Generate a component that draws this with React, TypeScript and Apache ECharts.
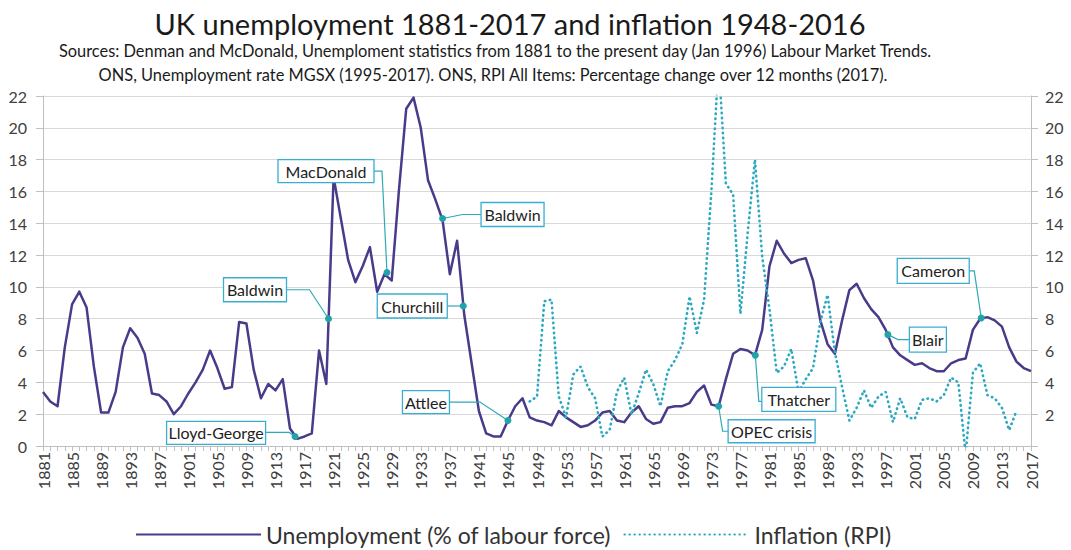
import React, { useEffect, useRef } from "react";
import * as echarts from "echarts";

const firstYear = 1881;
const lastYear = 2017;
const years: string[] = [];
for (let y = firstYear; y <= lastYear; y++) years.push(String(y));

// Unemployment, % of labour force, 1881-2017
const unemployment = [
  3.4, 2.8, 2.5, 6.2, 8.9, 9.7, 8.7, 5.0, 2.1, 2.1,
  3.4, 6.2, 7.4, 6.8, 5.8, 3.3, 3.2, 2.8, 2.0, 2.5,
  3.3, 4.0, 4.8, 6.0, 4.9, 3.6, 3.7, 7.8, 7.7, 4.8,
  3.0, 3.9, 3.5, 4.2, 1.1, 0.45, 0.6, 0.8, 6.0, 3.9,
  16.9, 14.3, 11.7, 10.3, 11.3, 12.5, 9.7, 10.8, 10.4, 16.1,
  21.2, 21.9, 20.0, 16.7, 15.5, 14.2, 10.8, 12.9, 8.2, 5.2,
  2.2, 0.8, 0.6, 0.6, 1.6, 2.5, 3.0, 1.8, 1.6, 1.5,
  1.3, 2.2, 1.8, 1.5, 1.2, 1.3, 1.6, 2.1, 2.2, 1.6,
  1.5, 2.1, 2.5, 1.7, 1.4, 1.5, 2.4, 2.5, 2.5, 2.7,
  3.4, 3.8, 2.6, 2.5, 4.2, 5.8, 6.1, 6.0, 5.7, 7.3,
  11.3, 12.9, 12.1, 11.5, 11.7, 11.8, 10.4, 7.9, 6.4, 5.8,
  7.9, 9.8, 10.2, 9.3, 8.6, 8.1, 7.3, 6.2, 5.7, 5.4,
  5.1, 5.2, 4.9, 4.7, 4.7, 5.2, 5.4, 5.5, 7.3, 8.0,
  8.1, 7.9, 7.5, 6.2, 5.3, 4.9, 4.7,
];

// Inflation (RPI), % change over 12 months, plotted from 1948
const inflationStartYear = 1948;
const inflation = [
  2.8, 3.1, 9.1, 9.2, 3.1, 1.8, 4.5, 5.0, 3.7, 3.0,
  0.6, 1.0, 3.4, 4.3, 2.0, 3.3, 4.8, 3.9, 2.5, 4.7,
  5.4, 6.4, 9.4, 7.1, 9.2, 16.0, 24.2, 16.5, 15.8, 8.3,
  13.4, 18.0, 11.9, 8.6, 4.6, 5.0, 6.1, 3.4, 4.2, 4.9,
  7.8, 9.5, 5.9, 3.7, 1.6, 2.4, 3.5, 2.4, 3.1, 3.4,
  1.5, 3.0, 1.8, 1.7, 2.9, 3.0, 2.8, 3.2, 4.3, 4.0,
  -0.5, 4.6, 5.2, 3.2, 3.0, 2.4, 1.0, 2.2,
];

// Callout annotations (leaders)
const annotationNames = [
  "Lloyd-George", "Baldwin", "MacDonald", "Baldwin", "Churchill",
  "Attlee", "OPEC crisis", "Thatcher", "Blair", "Cameron",
];
const annotationYears = [1915.7, 1920.3, 1928.35, 1936.0, 1938.85, 1945.0, 1974.0, 1979.05, 1997.3, 2010.15];
const annotationValues = [0.6, 8.0, 10.9, 14.3, 8.8, 1.6, 2.5, 5.7, 7.0, 8.05];

const yMax = 22;
const yInterval = 2;

// Callout box layout, in pixels relative to the marker
const calloutLayout = [
  { dx: -79, dy: -3.5, w: 99, h: 23, ex: -6, ey: -4 },
  { dx: -73.5, dy: -29, w: 63, h: 24, ex: -19, ey: -29 },
  { dx: -61, dy: -101.5, w: 96, h: 23, ex: -5, ey: -101.5 },
  { dx: 70, dy: -4, w: 63, h: 24, ex: 20, ey: -4 },
  { dx: -51, dy: 0, w: 70, h: 24, ex: -8, ey: 0 },
  { dx: -82, dy: -18.5, w: 47, h: 23, ex: -28, ey: -18.5 },
  { dx: 53, dy: 25, w: 87, h: 23, ex: 4, ey: 25 },
  { dx: 43.5, dy: 44, w: 74, h: 24, ex: 3.5, ey: 46 },
  { dx: 40, dy: 5, w: 37, h: 25, ex: 10, ey: 5 },
  { dx: -48, dy: -47, w: 72, h: 25, ex: -7, ey: -47 },
];

const UNEMP = "Unemployment (% of labour force)";
const INFL = "Inflation (RPI)";
const FONT = "Lato";

export default function App() {
  const ref = useRef<HTMLDivElement>(null);

  useEffect(() => {
    if (!ref.current) return;
    const chart = echarts.init(ref.current, undefined, { renderer: "svg" });

    const unempData = unemployment.map((v, i) => [firstYear + i, v]);
    const inflData = inflation.map((v, i) => [inflationStartYear + i, v]);
    const annData = annotationYears.map((y, i) => [y, annotationValues[i]]);

    const axisGray = "#bfbfbf";
    const labelColor = "#404040";

    const option: any = {
      animation: false,
      backgroundColor: "#ffffff",
      textStyle: { fontFamily: FONT },
      grid: { left: 43, right: 40, top: 96, bottom: 104, containLabel: false },
      graphic: [
        {
          type: "text",
          x: 510,
          y: 23,
          style: {
            text: "UK unemployment 1881-2017 and inflation 1948-2016",
            font: `29px ${FONT}`,
            fill: "#1a1a1a",
            align: "center",
            verticalAlign: "middle",
          },
        },
        {
          type: "text",
          x: 495,
          y: 50,
          style: {
            text: "Sources: Denman and McDonald, Unemploment statistics from 1881 to the present day (Jan 1996) Labour Market Trends.",
            font: `16.4px ${FONT}`,
            fill: "#1a1a1a",
            align: "center",
            verticalAlign: "middle",
          },
        },
        {
          type: "text",
          x: 493,
          y: 74,
          style: {
            text: "ONS, Unemployment rate MGSX (1995-2017). ONS, RPI All Items: Percentage change over 12 months (2017).",
            font: `16.4px ${FONT}`,
            fill: "#1a1a1a",
            align: "center",
            verticalAlign: "middle",
          },
        },
      ],
      legend: {
        data: [UNEMP, INFL],
        left: 130,
        top: 518,
        itemWidth: 125,
        itemHeight: 14,
        itemGap: 12,
        itemStyle: { opacity: 0 },
        textStyle: { fontSize: 23, color: "#333", fontFamily: FONT },
      },
      xAxis: [
        {
          type: "category",
          data: years,
          boundaryGap: false,
          axisLine: { show: true, lineStyle: { color: axisGray } },
          axisTick: { show: true, interval: 0, length: 5, lineStyle: { color: axisGray } },
          axisLabel: { interval: 3, rotate: 90, fontSize: 16, color: labelColor, margin: 6, fontFamily: FONT },
          splitLine: { show: false },
        },
        { type: "value", min: firstYear, max: lastYear, show: false },
      ],
      yAxis: [
        {
          type: "value",
          min: 0,
          max: yMax,
          interval: yInterval,
          position: "left",
          axisLine: { show: true, lineStyle: { color: axisGray } },
          axisTick: { show: true, length: 7, lineStyle: { color: axisGray } },
          axisLabel: { fontSize: 16, color: labelColor, margin: 16, fontFamily: FONT },
          splitLine: { show: true, lineStyle: { color: "#d9d9d9", width: 1 } },
        },
        {
          type: "value",
          min: 0,
          max: yMax,
          interval: yInterval,
          position: "right",
          axisLine: { show: true, lineStyle: { color: axisGray } },
          axisTick: { show: true, length: 7, lineStyle: { color: axisGray } },
          axisLabel: {
            fontSize: 16,
            color: labelColor,
            margin: 14,
            fontFamily: FONT,
            formatter: (v: number) => (v === 0 ? "" : String(v)),
          },
          splitLine: { show: false },
        },
      ],
      series: [
        {
          name: UNEMP,
          type: "line",
          xAxisIndex: 1,
          yAxisIndex: 0,
          data: unempData,
          symbol: "none",
          showSymbol: false,
          lineStyle: { color: "#4a3b8a", width: 2.5, join: "round" },
          itemStyle: { color: "#4a3b8a" },
          z: 3,
        },
        {
          name: INFL,
          type: "line",
          xAxisIndex: 1,
          yAxisIndex: 1,
          data: inflData,
          symbol: "none",
          showSymbol: false,
          lineStyle: { color: "#2aa9c1", width: 2.6, type: [0.5, 4.5], cap: "round" },
          itemStyle: { color: "#2aa9c1" },
          z: 4,
        },
        {
          type: "custom",
          xAxisIndex: 1,
          yAxisIndex: 0,
          data: annData,
          silent: true,
          z: 10,
          renderItem: (params: any, api: any) => {
            const i = params.dataIndex;
            const p = api.coord([api.value(0), api.value(1)]);
            const L = calloutLayout[i];
            const bx = p[0] + L.dx;
            const by = p[1] + L.dy;
            const ex = p[0] + L.ex;
            const ey = p[1] + L.ey;
            const ax = ex > bx ? bx + L.w / 2 : bx - L.w / 2;
            return {
              type: "group",
              children: [
                {
                  type: "polyline",
                  shape: { points: [[ax, ey], [ex, ey], [p[0], p[1]]] },
                  style: { stroke: "#2fa9b4", lineWidth: 1.2, fill: null },
                },
                {
                  type: "rect",
                  shape: { x: bx - L.w / 2, y: by - L.h / 2, width: L.w, height: L.h },
                  style: { fill: "#ffffff", stroke: "#3aaed0", lineWidth: 1.3 },
                },
                {
                  type: "text",
                  style: {
                    text: annotationNames[i],
                    x: bx,
                    y: by,
                    align: "center",
                    verticalAlign: "middle",
                    font: `16px ${FONT}`,
                    fill: "#222222",
                  },
                },
                {
                  type: "circle",
                  shape: { cx: p[0], cy: p[1], r: 3.5 },
                  style: { fill: "#22a3aa" },
                },
              ],
            };
          },
        },
      ],
    };

    chart.setOption(option);
    return () => {
      chart.dispose();
    };
  }, []);

  return (
    <div
      ref={ref}
      style={{ position: "fixed", left: 0, top: 0, width: 1071, height: 550, background: "#fff" }}
    />
  );
}
